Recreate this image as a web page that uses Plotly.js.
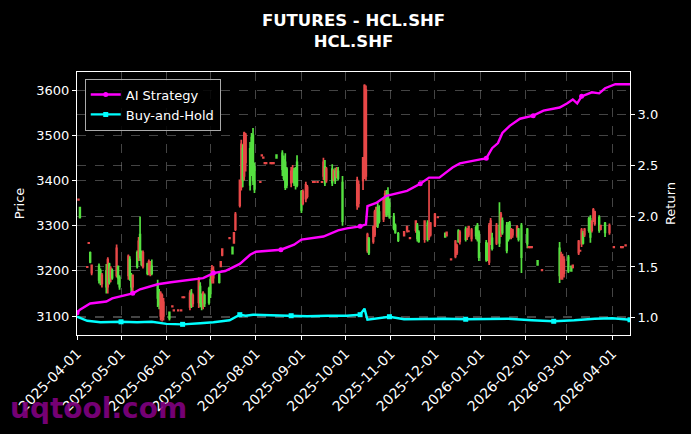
<!DOCTYPE html>
<html>
<head>
<meta charset="utf-8">
<script src="https://cdn.plot.ly/plotly-3.0.1.min.js"></script>
<style>
  html, body { margin: 0; padding: 0; background: #000; }
  #chart { width: 691px; height: 434px; }
</style>
</head>
<body>
<div id="chart"></div>
<script>
// daily candles, one small list per month: [date, open, high, low, close]
const apr2025 = [
  ['2025-04-02', 3358, 3359, 3357, 3357],
  ['2025-04-03', 3318, 3342, 3316, 3340],
  ['2025-04-08', 3209, 3210, 3208, 3208],
  ['2025-04-09', 3262, 3263, 3261, 3261],
  ['2025-04-10', 3220, 3243, 3217, 3240],
  ['2025-04-11', 3212, 3214, 3190, 3196],
  ['2025-04-16', 3180, 3216, 3172, 3210],
  ['2025-04-17', 3175, 3205, 3168, 3200],
  ['2025-04-18', 3190, 3195, 3163, 3172],
  ['2025-04-21', 3165, 3215, 3150, 3200],
  ['2025-04-22', 3225, 3230, 3150, 3165],
  ['2025-04-23', 3175, 3218, 3170, 3215],
  ['2025-04-24', 3205, 3210, 3175, 3185],
  ['2025-04-25', 3185, 3205, 3180, 3200],
  ['2025-04-28', 3250, 3258, 3185, 3190],
  ['2025-04-29', 3185, 3212, 3170, 3210],
  ['2025-04-30', 3165, 3190, 3158, 3185]
];
const may2025 = [
  ['2025-05-06', 3232, 3236, 3180, 3190],
  ['2025-05-07', 3190, 3232, 3178, 3225],
  ['2025-05-08', 3165, 3195, 3150, 3190],
  ['2025-05-09', 3190, 3192, 3150, 3165],
  ['2025-05-12', 3210, 3245, 3205, 3240],
  ['2025-05-13', 3265, 3275, 3222, 3230],
  ['2025-05-14', 3230, 3320, 3222, 3280],
  ['2025-05-15', 3215, 3245, 3210, 3240],
  ['2025-05-16', 3240, 3245, 3205, 3210],
  ['2025-05-19', 3195, 3218, 3190, 3215],
  ['2025-05-20', 3220, 3225, 3190, 3200],
  ['2025-05-21', 3215, 3222, 3188, 3195],
  ['2025-05-22', 3195, 3225, 3190, 3210],
  ['2025-05-26', 3140, 3180, 3120, 3170],
  ['2025-05-27', 3125, 3160, 3115, 3150],
  ['2025-05-28', 3150, 3155, 3090, 3100],
  ['2025-05-29', 3145, 3150, 3088, 3095],
  ['2025-05-30', 3130, 3140, 3090, 3100]
];
const jun2025 = [
  ['2025-06-03', 3095, 3110, 3090, 3108],
  ['2025-06-05', 3122, 3123, 3121, 3121],
  ['2025-06-06', 3113, 3114, 3112, 3112],
  ['2025-06-09', 3113, 3114, 3112, 3112],
  ['2025-06-11', 3113, 3114, 3112, 3112],
  ['2025-06-12', 3142, 3143, 3141, 3141],
  ['2025-06-13', 3142, 3143, 3141, 3141],
  ['2025-06-17', 3150, 3157, 3113, 3120],
  ['2025-06-18', 3125, 3160, 3118, 3150],
  ['2025-06-19', 3145, 3150, 3120, 3128],
  ['2025-06-23', 3180, 3186, 3118, 3130],
  ['2025-06-24', 3130, 3175, 3120, 3165],
  ['2025-06-25', 3120, 3150, 3113, 3140],
  ['2025-06-26', 3150, 3155, 3115, 3130],
  ['2025-06-27', 3128, 3150, 3120, 3145],
  ['2025-06-30', 3130, 3165, 3125, 3160]
];
const jul2025 = [
  ['2025-07-01', 3150, 3190, 3140, 3180],
  ['2025-07-02', 3205, 3213, 3172, 3180],
  ['2025-07-03', 3200, 3210, 3172, 3185],
  ['2025-07-07', 3175, 3196, 3172, 3192],
  ['2025-07-08', 3220, 3222, 3208, 3210],
  ['2025-07-09', 3248, 3250, 3232, 3235],
  ['2025-07-14', 3273, 3274, 3272, 3272],
  ['2025-07-16', 3238, 3254, 3236, 3252],
  ['2025-07-17', 3284, 3286, 3260, 3262],
  ['2025-07-18', 3325, 3330, 3288, 3292],
  ['2025-07-21', 3400, 3402, 3340, 3345],
  ['2025-07-22', 3480, 3490, 3378, 3385],
  ['2025-07-23', 3400, 3480, 3385, 3470],
  ['2025-07-24', 3505, 3508, 3400, 3410],
  ['2025-07-25', 3500, 3505, 3420, 3440],
  ['2025-07-28', 3390, 3485, 3378, 3470],
  ['2025-07-29', 3420, 3505, 3410, 3495],
  ['2025-07-30', 3400, 3516, 3390, 3500],
  ['2025-07-31', 3380, 3440, 3372, 3430]
];
const aug2025 = [
  ['2025-08-04', 3397, 3398, 3396, 3396],
  ['2025-08-05', 3456, 3457, 3455, 3455],
  ['2025-08-06', 3451, 3452, 3450, 3450],
  ['2025-08-07', 3439, 3440, 3438, 3438],
  ['2025-08-08', 3439, 3440, 3438, 3438],
  ['2025-08-11', 3439, 3440, 3438, 3438],
  ['2025-08-12', 3439, 3440, 3438, 3438],
  ['2025-08-13', 3439, 3440, 3438, 3438],
  ['2025-08-15', 3450, 3458, 3449, 3456],
  ['2025-08-19', 3425, 3467, 3410, 3460],
  ['2025-08-20', 3405, 3455, 3400, 3445],
  ['2025-08-21', 3385, 3460, 3379, 3440],
  ['2025-08-22', 3390, 3430, 3383, 3425],
  ['2025-08-25', 3420, 3430, 3385, 3395],
  ['2025-08-26', 3425, 3434, 3395, 3400],
  ['2025-08-27', 3395, 3428, 3388, 3420],
  ['2025-08-28', 3400, 3430, 3380, 3425],
  ['2025-08-29', 3390, 3456, 3385, 3440]
];
const sep2025 = [
  ['2025-09-01', 3335, 3379, 3328, 3375],
  ['2025-09-02', 3375, 3380, 3345, 3350],
  ['2025-09-04', 3390, 3397, 3352, 3360],
  ['2025-09-05', 3385, 3390, 3360, 3365],
  ['2025-09-09', 3397, 3398, 3396, 3396],
  ['2025-09-10', 3397, 3398, 3396, 3396],
  ['2025-09-12', 3397, 3398, 3396, 3396],
  ['2025-09-15', 3397, 3398, 3396, 3396],
  ['2025-09-16', 3440, 3450, 3401, 3410],
  ['2025-09-17', 3395, 3445, 3388, 3430],
  ['2025-09-18', 3425, 3430, 3395, 3400],
  ['2025-09-22', 3395, 3436, 3388, 3425],
  ['2025-09-23', 3420, 3425, 3398, 3405],
  ['2025-09-24', 3400, 3428, 3392, 3420],
  ['2025-09-25', 3425, 3430, 3405, 3410],
  ['2025-09-26', 3405, 3430, 3400, 3420],
  ['2025-09-29', 3310, 3410, 3300, 3395]
];
const oct2025 = [
  ['2025-10-09', 3400, 3408, 3335, 3345],
  ['2025-10-10', 3390, 3400, 3340, 3350],
  ['2025-10-13', 3450, 3452, 3379, 3400],
  ['2025-10-14', 3610, 3613, 3405, 3405],
  ['2025-10-15', 3600, 3610, 3400, 3410],
  ['2025-10-16', 3280, 3284, 3240, 3245],
  ['2025-10-17', 3240, 3275, 3235, 3270],
  ['2025-10-20', 3297, 3300, 3260, 3265],
  ['2025-10-21', 3330, 3335, 3275, 3280],
  ['2025-10-22', 3340, 3341, 3297, 3300],
  ['2025-10-23', 3300, 3352, 3295, 3340],
  ['2025-10-24', 3310, 3345, 3305, 3330],
  ['2025-10-27', 3355, 3361, 3308, 3315],
  ['2025-10-28', 3370, 3378, 3320, 3330],
  ['2025-10-29', 3325, 3379, 3319, 3365],
  ['2025-10-30', 3330, 3385, 3322, 3370],
  ['2025-10-31', 3320, 3360, 3315, 3350]
];
const nov2025 = [
  ['2025-11-03', 3295, 3328, 3290, 3320],
  ['2025-11-04', 3285, 3305, 3282, 3300],
  ['2025-11-06', 3268, 3286, 3264, 3282],
  ['2025-11-10', 3286, 3288, 3276, 3278],
  ['2025-11-12', 3298, 3300, 3285, 3290],
  ['2025-11-13', 3288, 3289, 3287, 3287],
  ['2025-11-14', 3273, 3274, 3272, 3272],
  ['2025-11-18', 3310, 3312, 3284, 3290],
  ['2025-11-19', 3272, 3306, 3265, 3300],
  ['2025-11-20', 3265, 3290, 3262, 3285],
  ['2025-11-24', 3310, 3312, 3262, 3270],
  ['2025-11-26', 3270, 3312, 3265, 3305],
  ['2025-11-27', 3300, 3401, 3268, 3275],
  ['2025-11-28', 3305, 3308, 3276, 3280]
];
const dec2025 = [
  ['2025-12-01', 3325, 3328, 3297, 3300],
  ['2025-12-03', 3319, 3320, 3318, 3318],
  ['2025-12-08', 3275, 3285, 3273, 3283],
  ['2025-12-09', 3285, 3287, 3276, 3278],
  ['2025-12-12', 3226, 3227, 3225, 3225],
  ['2025-12-15', 3265, 3268, 3228, 3232],
  ['2025-12-16', 3255, 3260, 3235, 3240],
  ['2025-12-17', 3265, 3292, 3262, 3288],
  ['2025-12-18', 3285, 3290, 3258, 3265],
  ['2025-12-22', 3270, 3298, 3265, 3292],
  ['2025-12-23', 3290, 3295, 3268, 3275],
  ['2025-12-24', 3298, 3300, 3275, 3280],
  ['2025-12-26', 3290, 3295, 3265, 3272],
  ['2025-12-29', 3278, 3300, 3270, 3295],
  ['2025-12-30', 3270, 3306, 3265, 3300],
  ['2025-12-31', 3230, 3290, 3222, 3285]
];
const jan2026 = [
  ['2026-01-05', 3225, 3268, 3220, 3262],
  ['2026-01-06', 3230, 3262, 3222, 3255],
  ['2026-01-07', 3300, 3306, 3213, 3220],
  ['2026-01-08', 3310, 3317, 3257, 3265],
  ['2026-01-09', 3250, 3284, 3245, 3272],
  ['2026-01-12', 3300, 3306, 3257, 3262],
  ['2026-01-14', 3262, 3352, 3253, 3300],
  ['2026-01-15', 3325, 3330, 3275, 3290],
  ['2026-01-16', 3285, 3318, 3280, 3310],
  ['2026-01-19', 3245, 3308, 3239, 3300],
  ['2026-01-20', 3270, 3308, 3265, 3300],
  ['2026-01-21', 3275, 3310, 3270, 3305],
  ['2026-01-22', 3290, 3295, 3270, 3275],
  ['2026-01-23', 3290, 3293, 3273, 3280],
  ['2026-01-26', 3298, 3301, 3273, 3278],
  ['2026-01-27', 3270, 3295, 3265, 3292],
  ['2026-01-29', 3230, 3306, 3195, 3300]
];
const feb2026 = [
  ['2026-02-02', 3260, 3295, 3250, 3292],
  ['2026-02-03', 3253, 3254, 3252, 3252],
  ['2026-02-04', 3253, 3254, 3252, 3252],
  ['2026-02-05', 3253, 3254, 3252, 3252],
  ['2026-02-09', 3213, 3224, 3212, 3222],
  ['2026-02-12', 3202, 3203, 3201, 3201],
  ['2026-02-24', 3190, 3264, 3173, 3250],
  ['2026-02-25', 3235, 3242, 3180, 3185],
  ['2026-02-26', 3230, 3238, 3180, 3190],
  ['2026-02-27', 3225, 3232, 3185, 3195]
];
const mar2026 = [
  ['2026-03-02', 3200, 3235, 3195, 3230],
  ['2026-03-04', 3200, 3212, 3198, 3210],
  ['2026-03-05', 3212, 3214, 3205, 3208],
  ['2026-03-09', 3265, 3268, 3235, 3240],
  ['2026-03-10', 3245, 3246, 3244, 3244],
  ['2026-03-11', 3290, 3295, 3253, 3260],
  ['2026-03-12', 3262, 3288, 3258, 3282],
  ['2026-03-13', 3292, 3295, 3275, 3280],
  ['2026-03-16', 3290, 3319, 3284, 3315],
  ['2026-03-17', 3275, 3323, 3262, 3315],
  ['2026-03-18', 3310, 3312, 3285, 3290],
  ['2026-03-19', 3335, 3339, 3308, 3310],
  ['2026-03-20', 3330, 3333, 3300, 3305],
  ['2026-03-23', 3290, 3323, 3284, 3318],
  ['2026-03-24', 3300, 3302, 3290, 3292],
  ['2026-03-27', 3285, 3308, 3275, 3305],
  ['2026-03-30', 3300, 3305, 3280, 3285]
];
const apr2026 = [
  ['2026-04-02', 3253, 3254, 3252, 3252],
  ['2026-04-07', 3253, 3254, 3252, 3252],
  ['2026-04-08', 3253, 3254, 3252, 3252],
  ['2026-04-10', 3257, 3258, 3256, 3256]
];

// cumulative return curves
const aiDates = ['2025-04-01','2025-04-03','2025-04-10','2025-04-21','2025-04-25','2025-04-30',
  '2025-05-09','2025-05-14','2025-05-26','2025-06-04','2025-06-16','2025-06-26','2025-07-03',
  '2025-07-11','2025-07-21','2025-07-28','2025-08-01','2025-08-11','2025-08-18','2025-08-27',
  '2025-09-01','2025-09-16','2025-09-26','2025-10-02','2025-10-11','2025-10-15','2025-10-16',
  '2025-10-22','2025-10-29','2025-11-12','2025-11-21','2025-11-27','2025-12-04','2025-12-13',
  '2025-12-18','2026-01-01','2026-01-05','2026-01-09','2026-01-13','2026-01-16','2026-01-21',
  '2026-01-28','2026-02-06','2026-02-13','2026-02-24','2026-03-01','2026-03-05','2026-03-08',
  '2026-03-11','2026-03-18','2026-03-23','2026-03-27','2026-04-03','2026-04-13'];
const aiReturn = [1.05, 1.08, 1.14, 1.16, 1.19, 1.21,
  1.24, 1.28, 1.33, 1.35, 1.37, 1.39, 1.44,
  1.46, 1.53, 1.62, 1.65, 1.66, 1.67, 1.72,
  1.77, 1.80, 1.86, 1.88, 1.90, 1.92, 2.10,
  2.13, 2.20, 2.25, 2.32, 2.38, 2.38, 2.48,
  2.52, 2.56, 2.57, 2.67, 2.72, 2.82, 2.89,
  2.96, 2.99, 3.04, 3.07, 3.11, 3.15, 3.11,
  3.18, 3.22, 3.21, 3.26, 3.30, 3.30];

const bhDates = ['2025-04-01','2025-04-08','2025-04-17','2025-05-01','2025-05-12','2025-05-22',
  '2025-06-01','2025-06-12','2025-06-24','2025-07-03','2025-07-14','2025-07-21','2025-07-25',
  '2025-07-30','2025-08-11','2025-08-25','2025-09-05','2025-09-19','2025-10-02','2025-10-11',
  '2025-10-14','2025-10-16','2025-10-24','2025-10-31','2025-11-10','2025-11-24','2025-12-08',
  '2025-12-22','2026-01-05','2026-01-20','2026-02-05','2026-02-20','2026-03-06','2026-03-20',
  '2026-04-01','2026-04-13'];
const bhReturn = [1.01, 0.97, 0.955, 0.96, 0.955, 0.96,
  0.94, 0.935, 0.945, 0.955, 0.975, 1.03, 1.02,
  1.03, 1.025, 1.02, 1.015, 1.02, 1.02, 1.03,
  1.09, 0.98, 0.995, 1.01, 0.985, 0.99, 0.99,
  0.985, 0.985, 0.99, 0.975, 0.965, 0.975, 0.99,
  0.995, 0.98];

const candles = [].concat(apr2025, may2025, jun2025, jul2025, aug2025, sep2025,
  oct2025, nov2025, dec2025, jan2026, feb2026, mar2026, apr2026);

const upColor = '#55e040';
const downColor = '#e84848';
const gridStyle = { showgrid: true, gridcolor: 'rgba(150,150,150,0.45)', griddash: 'dash', gridwidth: 1 };
const tickFont = { family: 'DejaVu Sans', size: 13, color: '#ffffff' };

const price = {
  type: 'candlestick',
  x: candles.map(r => r[0]),
  open: candles.map(r => r[1]),
  high: candles.map(r => r[2]),
  low: candles.map(r => r[3]),
  close: candles.map(r => r[4]),
  increasing: { line: { color: upColor, width: 1.7 }, fillcolor: upColor },
  decreasing: { line: { color: downColor, width: 1.7 }, fillcolor: downColor },
  showlegend: false,
  xaxis: 'x',
  yaxis: 'y'
};

const ai = {
  type: 'scatter',
  mode: 'lines+markers',
  name: 'AI Strategy',
  x: aiDates,
  y: aiReturn,
  yaxis: 'y2',
  line: { color: '#ff00ff', width: 2.4 },
  marker: { color: '#ff00ff', size: 5, maxdisplayed: 9 }
};

const bh = {
  type: 'scatter',
  mode: 'lines+markers',
  name: 'Buy-and-Hold',
  x: bhDates,
  y: bhReturn,
  yaxis: 'y2',
  line: { color: '#00ffff', width: 2.4 },
  marker: { color: '#00ffff', size: 5, symbol: 'square', maxdisplayed: 9 }
};

const layout = {
  width: 691,
  height: 434,
  paper_bgcolor: '#000000',
  plot_bgcolor: '#000000',
  margin: { l: 77, r: 61, t: 72, b: 99 },
  font: { family: 'DejaVu Sans', color: '#ffffff', size: 13 },
  title: {
    text: 'FUTURES - HCL.SHF<br>HCL.SHF',
    font: { family: 'DejaVu Sans', size: 16.5, weight: 'bold', color: '#ffffff' },
    xref: 'paper', x: 0.5, xanchor: 'center',
    yref: 'container', y: 0.94, yanchor: 'top'
  },
  xaxis: Object.assign({
    type: 'date',
    range: ['2025-04-01', '2026-04-13'],
    tick0: '2025-04-01',
    dtick: 'M1',
    tickformat: '%Y-%m-%d',
    tickangle: -45,
    tickfont: { family: 'DejaVu Sans', size: 14, color: '#ffffff' },
    ticks: 'outside', ticklen: 4, tickcolor: '#ffffff',
    showline: true, linecolor: '#ffffff', linewidth: 1, mirror: true,
    rangeslider: { visible: false },
    zeroline: false
  }, gridStyle),
  yaxis: Object.assign({
    range: [3058, 3640],
    dtick: 100,
    tickfont: tickFont,
    ticks: 'outside', ticklen: 4, tickcolor: '#ffffff',
    showline: true, linecolor: '#ffffff', linewidth: 1, mirror: true,
    zeroline: false,
    title: { text: 'Price', font: { family: 'DejaVu Sans', size: 13, color: '#ffffff' }, standoff: 8 }
  }, gridStyle),
  yaxis2: Object.assign({
    overlaying: 'y',
    side: 'right',
    range: [0.83, 3.42],
    dtick: 0.5,
    tick0: 1,
    tickformat: '.1f',
    tickfont: tickFont,
    ticks: 'outside', ticklen: 4, tickcolor: '#ffffff',
    showline: true, linecolor: '#ffffff', linewidth: 1,
    zeroline: false,
    title: { text: 'Return', font: { family: 'DejaVu Sans', size: 13, color: '#ffffff' }, standoff: 8 }
  }, gridStyle),
  legend: {
    x: 0.014, y: 0.975, xanchor: 'left', yanchor: 'top',
    bgcolor: 'rgba(0,0,0,0.85)',
    bordercolor: '#aaaaaa', borderwidth: 1,
    font: { family: 'DejaVu Sans', size: 13, color: '#ffffff' }
  },
  annotations: [{
    text: 'uqtool.com',
    xref: 'paper', yref: 'paper',
    x: -0.125, y: -0.28, xanchor: 'left', yanchor: 'middle',
    showarrow: false,
    font: { family: 'DejaVu Sans', size: 28, weight: 'bold', color: 'rgba(128,0,128,0.92)' }
  }]
};

Plotly.newPlot('chart', [price, ai, bh], layout, { displayModeBar: false, staticPlot: true });
</script>
</body>
</html>
